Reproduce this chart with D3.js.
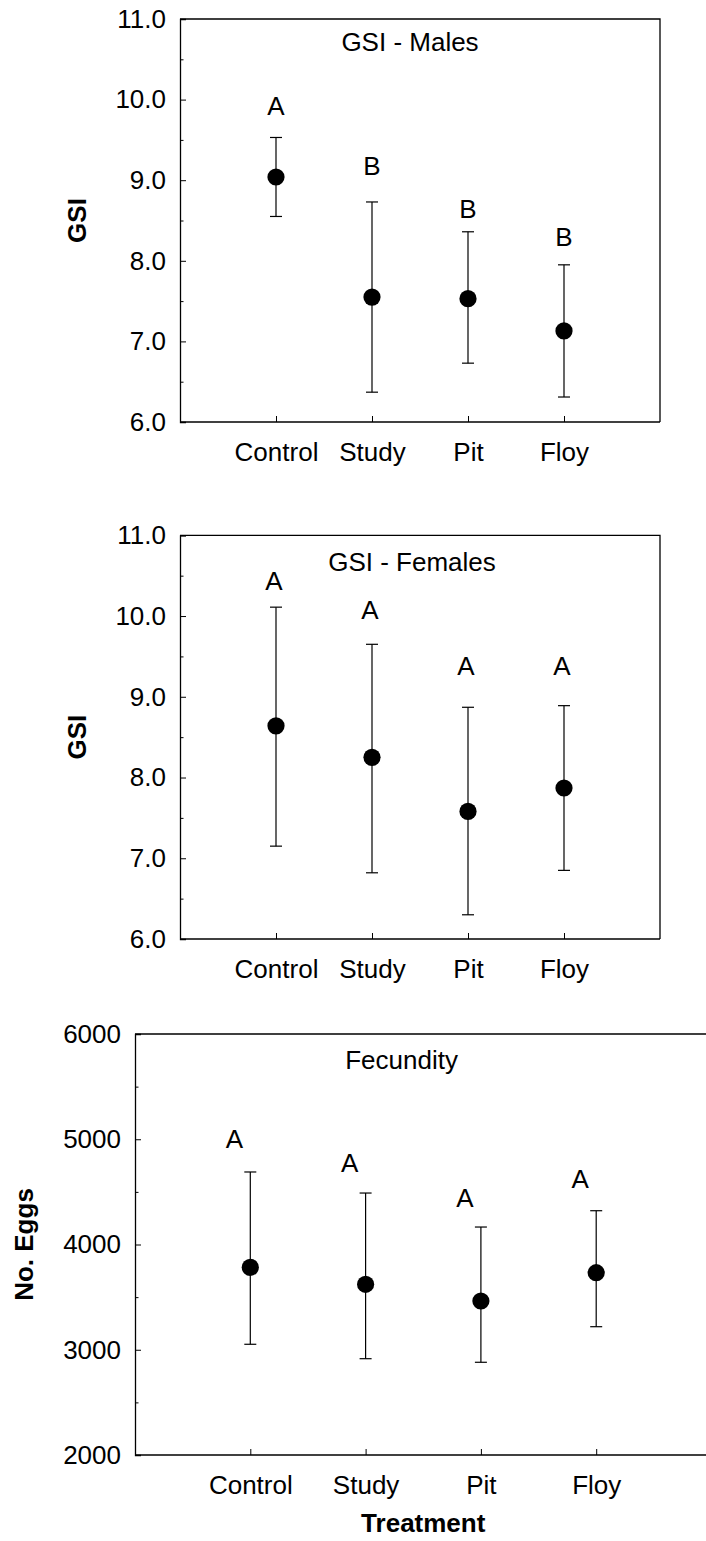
<!DOCTYPE html>
<html>
<head>
<meta charset="utf-8">
<script src="https://cdn.jsdelivr.net/npm/d3@7"></script>
<style>
  html, body { margin: 0; padding: 0; background: #fff; }
  svg text { font-family: "Liberation Sans", Arial, sans-serif; fill: #000; }
</style>
</head>
<body>
<svg id="chart" width="706" height="1541"></svg>
<script>
// ---------- data ----------
const categories = ["Control", "Study", "Pit", "Floy"];

const malesMean   = [9.04, 7.55, 7.53, 7.13];
const malesUpper  = [9.53, 8.73, 8.36, 7.95];
const malesLower  = [8.55, 6.37, 6.73, 6.31];
const malesLetters = ["A", "B", "B", "B"];
const malesLetterY = [9.81, 9.06, 8.53, 8.18];

const femalesMean   = [8.64, 8.25, 7.58, 7.87];
const femalesUpper  = [10.11, 9.65, 8.87, 8.89];
const femalesLower  = [7.15, 6.82, 6.30, 6.85];
const femalesLetters = ["A", "A", "A", "A"];
const femalesLetterY = [10.32, 9.96, 9.27, 9.27];

const eggsMean   = [3783, 3622, 3463, 3732];
const eggsUpper  = [4689, 4489, 4166, 4321];
const eggsLower  = [3052, 2915, 2881, 3219];
const eggsLetters = ["A", "A", "A", "A"];
const eggsLetterY = [4917, 4692, 4359, 4534];

const gsiTicks = [6, 7, 8, 9, 10, 11];
const gsiMinorTicks = [6.5, 7.5, 8.5, 9.5, 10.5];
const eggTicks = [2000, 3000, 4000, 5000, 6000];
const eggMinorTicks = [2500, 3500, 4500, 5500];

// ---------- panels ----------
const panels = [
  { title: "GSI - Males", yTitle: "GSI", mean: malesMean, upper: malesUpper, lower: malesLower,
    letters: malesLetters, letterY: malesLetterY, domain: [6, 11], ticks: gsiTicks, minor: gsiMinorTicks,
    fmt: d3.format(".1f"), left: 180, right: 660, top: 19, bottom: 422,
    titleX: 410, titleDy: 31.7, yTitleX: 86, letterDx: 0 },
  { title: "GSI - Females", yTitle: "GSI", mean: femalesMean, upper: femalesUpper, lower: femalesLower,
    letters: femalesLetters, letterY: femalesLetterY, domain: [6, 11], ticks: gsiTicks, minor: gsiMinorTicks,
    fmt: d3.format(".1f"), left: 180, right: 660, top: 535.3, bottom: 939,
    titleX: 412, titleDy: 35.4, yTitleX: 86, letterDx: -2 },
  { title: "Fecundity", yTitle: "No. Eggs", mean: eggsMean, upper: eggsUpper, lower: eggsLower,
    letters: eggsLetters, letterY: eggsLetterY, domain: [2000, 6000], ticks: eggTicks, minor: eggMinorTicks,
    fmt: d3.format("d"), left: 135, right: 711.5, top: 1034, bottom: 1455,
    titleX: 401.6, titleDy: 35.3, yTitleX: 33, letterDx: -16, xTitle: "Treatment" }
];

const svg = d3.select("#chart");
const FS = 26;

panels.forEach(p => {
  const g = svg.append("g");
  const x = d3.scalePoint().domain(categories).range([p.left, p.right]).padding(1);
  const y = d3.scaleLinear().domain(p.domain).range([p.bottom, p.top]);

  // frame (top + right)
  g.append("path")
    .attr("d", `M${p.left},${p.top}H${p.right}V${p.bottom}`)
    .attr("fill", "none").attr("stroke", "#000").attr("stroke-width", 1.3);

  // y axis major
  const yAx = g.append("g").attr("transform", `translate(${p.left},0)`)
    .call(d3.axisLeft(y).tickValues(p.ticks).tickFormat(p.fmt).tickSize(-6).tickPadding(14));
  yAx.select(".domain").attr("stroke-width", 1.3);
  yAx.selectAll(".tick line").attr("stroke-width", 1);
  yAx.selectAll("text").style("font-size", FS + "px").attr("fill", "#000");
  // y axis minor
  const yMin = g.append("g").attr("transform", `translate(${p.left},0)`)
    .call(d3.axisLeft(y).tickValues(p.minor).tickFormat("").tickSize(-3.5).tickSizeOuter(0));
  yMin.select(".domain").remove();

  // x axis
  const xAx = g.append("g").attr("transform", `translate(0,${p.bottom})`)
    .call(d3.axisBottom(x).tickSize(-6).tickSizeOuter(0).tickPadding(12));
  xAx.select(".domain").attr("d", `M${p.left},0H${p.right}`).attr("stroke-width", 1.3);
  xAx.selectAll(".tick line").attr("stroke-width", 1);
  xAx.selectAll("text").style("font-size", FS + "px").attr("fill", "#000").attr("dy", "1.05em");

  // error bars
  const eb = g.append("g").attr("stroke", "#000").attr("stroke-width", 1.2);
  categories.forEach((c, i) => {
    eb.append("line").attr("x1", x(c)).attr("x2", x(c)).attr("y1", y(p.upper[i])).attr("y2", y(p.lower[i]));
    eb.append("line").attr("x1", x(c) - 6).attr("x2", x(c) + 6).attr("y1", y(p.upper[i])).attr("y2", y(p.upper[i]));
    eb.append("line").attr("x1", x(c) - 6).attr("x2", x(c) + 6).attr("y1", y(p.lower[i])).attr("y2", y(p.lower[i]));
  });

  // points
  g.selectAll("circle.pt").data(categories).join("circle")
    .attr("class", "pt")
    .attr("cx", c => x(c)).attr("cy", (c, i) => y(p.mean[i])).attr("r", 8.6).attr("fill", "#000");

  // significance letters
  g.selectAll("text.let").data(categories).join("text")
    .attr("class", "let")
    .attr("x", c => x(c) + p.letterDx).attr("y", (c, i) => y(p.letterY[i]))
    .attr("text-anchor", "middle").style("font-size", FS + "px")
    .text((c, i) => p.letters[i]);

  // panel title
  g.append("text").attr("x", p.titleX).attr("y", p.top + p.titleDy)
    .attr("text-anchor", "middle").style("font-size", FS + "px").text(p.title);

  // y title
  g.append("text")
    .attr("transform", `translate(${p.yTitleX},${(p.top + p.bottom) / 2}) rotate(-90)`)
    .attr("text-anchor", "middle").style("font-size", FS + "px").style("font-weight", "bold")
    .text(p.yTitle);

  if (p.xTitle) {
    g.append("text").attr("x", (p.left + p.right) / 2).attr("y", 1532)
      .attr("text-anchor", "middle").style("font-size", FS + "px").style("font-weight", "bold")
      .text(p.xTitle);
  }
});
</script>
</body>
</html>
